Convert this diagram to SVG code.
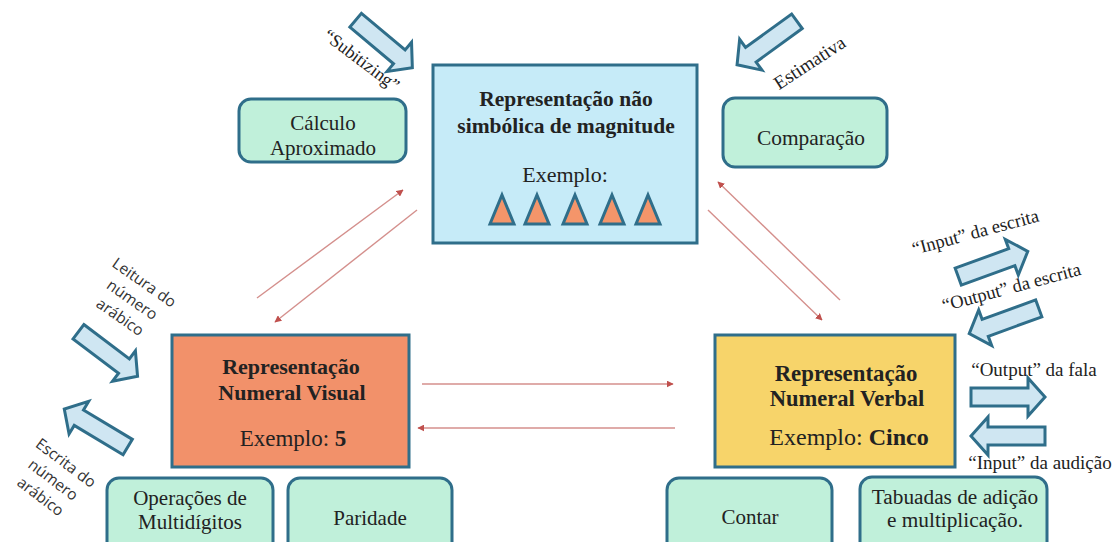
<svg xmlns="http://www.w3.org/2000/svg" width="1118" height="542" viewBox="0 0 1118 542">
<defs>
<style>
.serif{font-family:"Liberation Serif","Times New Roman",serif;fill:#222;}
.sans{font-family:"Open Sans","Liberation Sans",sans-serif;fill:#333;}
.main{stroke:#2f6e8a;stroke-width:3;}
.sub{fill:#c0f0da;stroke:#2f6e8a;stroke-width:3;}
.barrow{fill:#cfe6f2;stroke:#2f6e8a;stroke-width:3;stroke-linejoin:miter;}
.tri{fill:#f4956a;stroke:#2f6e8a;stroke-width:3;stroke-linejoin:miter;}
.conn{stroke:#d48f8c;stroke-width:1.4;fill:none;}
</style>
<marker id="ah" viewBox="0 0 10 10" refX="9" refY="5" markerWidth="7" markerHeight="7" markerUnits="userSpaceOnUse" orient="auto">
<path d="M0,0 L10,5 L0,10 z" fill="#c0504d"/>
</marker>
<path id="blk" d="M-37,-9 L20,-9 L20,-19 L37,0 L20,19 L20,9 L-37,9 z"/>
</defs>
<rect width="1118" height="542" fill="#fff"/>

<g id="connectors">
<line class="conn" x1="257" y1="298" x2="403" y2="190" marker-end="url(#ah)"/>
<line class="conn" x1="417" y1="210" x2="275" y2="322" marker-end="url(#ah)"/>
<line class="conn" x1="840" y1="300" x2="718" y2="182" marker-end="url(#ah)"/>
<line class="conn" x1="708" y1="210" x2="822" y2="320" marker-end="url(#ah)"/>
<line class="conn" x1="422" y1="384" x2="673" y2="384" marker-end="url(#ah)"/>
<line class="conn" x1="675" y1="428" x2="418" y2="428" marker-end="url(#ah)"/>
</g>

<g id="nao-simbolica">
<rect class="main" x="433" y="65" width="264" height="178" fill="#c6ebf8"/>
<text class="serif" x="566" y="106" font-size="21.5" font-weight="bold" text-anchor="middle">Representação não</text>
<text class="serif" x="566" y="133" font-size="21.5" font-weight="bold" text-anchor="middle">simbólica de magnitude</text>
<text class="serif" x="565" y="182" font-size="22" text-anchor="middle">Exemplo:</text>
<polygon class="tri" points="502,195 514,224 490,224"/>
<polygon class="tri" points="537,195 549,224 525,224"/>
<polygon class="tri" points="575,195 587,224 563,224"/>
<polygon class="tri" points="612,195 624,224 600,224"/>
<polygon class="tri" points="648,195 660,224 636,224"/>
</g>

<g id="calculo">
<rect class="sub" x="239" y="99" width="167" height="63" rx="12"/>
<text class="serif" x="323" y="130" font-size="21" text-anchor="middle">Cálculo</text>
<text class="serif" x="323" y="155" font-size="21" text-anchor="middle">Aproximado</text>
</g>

<g id="comparacao">
<rect class="sub" x="723" y="98" width="164" height="69" rx="12"/>
<text class="serif" x="811" y="145" font-size="21.4" text-anchor="middle">Comparação</text>
</g>

<g id="visual">
<rect class="main" x="172" y="335" width="237" height="132" fill="#f2916a"/>
<text class="serif" x="291" y="374" font-size="22" font-weight="bold" text-anchor="middle">Representação</text>
<text class="serif" x="292" y="400" font-size="22" font-weight="bold" text-anchor="middle">Numeral Visual</text>
<text class="serif" x="293" y="446" font-size="23" text-anchor="middle">Exemplo: <tspan font-weight="bold">5</tspan></text>
</g>

<g id="verbal">
<rect class="main" x="715" y="335" width="240" height="132" fill="#f7d46a"/>
<text class="serif" x="846" y="381" font-size="22.8" font-weight="bold" text-anchor="middle">Representação</text>
<text class="serif" x="847" y="406" font-size="22.5" font-weight="bold" text-anchor="middle">Numeral Verbal</text>
<text class="serif" x="849" y="445" font-size="24" text-anchor="middle">Exemplo: <tspan font-weight="bold">Cinco</tspan></text>
</g>

<g id="multidigitos">
<rect class="sub" x="107" y="478" width="166" height="80" rx="12"/>
<text class="serif" x="190" y="505" font-size="21" text-anchor="middle">Operações de</text>
<text class="serif" x="190" y="529" font-size="21" text-anchor="middle">Multidígitos</text>
</g>

<g id="paridade">
<rect class="sub" x="288" y="478" width="164" height="80" rx="12"/>
<text class="serif" x="370" y="525" font-size="21" text-anchor="middle">Paridade</text>
</g>

<g id="contar">
<rect class="sub" x="667" y="478" width="165" height="80" rx="12"/>
<text class="serif" x="750" y="524" font-size="21" text-anchor="middle">Contar</text>
</g>

<g id="tabuadas">
<rect class="sub" x="860" y="477" width="187" height="80" rx="12"/>
<text class="serif" x="955" y="504" font-size="21.3" text-anchor="middle">Tabuadas de adição</text>
<text class="serif" x="955" y="527" font-size="21.3" text-anchor="middle">e multiplicação.</text>
</g>

<g id="subitizing">
<use href="#blk" class="barrow" transform="translate(384,44) rotate(40)"/>
<text class="serif" font-size="18" text-anchor="middle" transform="translate(358,65) rotate(37)">“Subitizing”</text>
</g>

<g id="estimativa">
<use href="#blk" class="barrow" transform="translate(767,43) rotate(144)"/>
<text class="serif" font-size="19" text-anchor="middle" transform="translate(813,68) rotate(-33)">Estimativa</text>
</g>

<g id="leitura">
<use href="#blk" class="barrow" transform="translate(108,354) rotate(37)"/>
<text class="sans" font-size="15.5" text-anchor="middle" transform="translate(132,300) rotate(35)"><tspan x="0" y="-16">Leitura do</tspan><tspan x="0" y="5">número</tspan><tspan x="0" y="26">arábico</tspan></text>
</g>

<g id="escrita">
<use href="#blk" class="barrow" transform="translate(96,428) rotate(211)"/>
<text class="sans" font-size="15.5" text-anchor="middle" transform="translate(53,480) rotate(37)"><tspan x="0" y="-16">Escrita do</tspan><tspan x="0" y="5">número</tspan><tspan x="0" y="26">arábico</tspan></text>
</g>

<g id="input-escrita">
<use href="#blk" class="barrow" transform="translate(993,264) rotate(-20)"/>
<text class="serif" font-size="18.5" text-anchor="middle" transform="translate(977,238) rotate(-15)">“Input” da escrita</text>
</g>

<g id="output-escrita">
<use href="#blk" class="barrow" transform="translate(1004,321) rotate(160)"/>
<text class="serif" font-size="18.5" text-anchor="middle" transform="translate(1013,293) rotate(-15)">“Output” da escrita</text>
</g>

<g id="output-fala">
<use href="#blk" class="barrow" transform="translate(1008,397)"/>
<text class="serif" x="1034" y="376" font-size="19" text-anchor="middle">“Output” da fala</text>
</g>

<g id="input-audicao">
<use href="#blk" class="barrow" transform="translate(1008,436) rotate(180)"/>
<text class="serif" x="1040" y="469" font-size="19" text-anchor="middle">“Input” da audição</text>
</g>
</svg>
